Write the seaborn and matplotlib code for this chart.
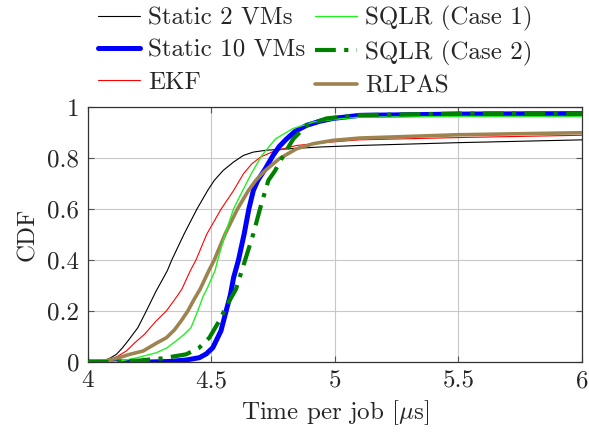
import matplotlib
matplotlib.use("Agg")
import matplotlib.pyplot as plt
import seaborn as sns
import pandas as pd

# ---- data ----
labels = ["Static 2 VMs", "Static 10 VMs", "EKF", "SQLR (Case 1)", "SQLR (Case 2)", "RLPAS"]

x_static2 = [4.0, 4.04, 4.062, 4.09, 4.116, 4.14, 4.163, 4.203, 4.237, 4.277, 4.30, 4.322, 4.34, 4.39, 4.442,
             4.485, 4.512, 4.548, 4.59, 4.63, 4.67, 4.72, 4.778, 4.94, 5.1, 5.5, 6.0]
y_static2 = [0.0, 0.0, 0.003, 0.015, 0.03, 0.055, 0.083, 0.135, 0.2, 0.279, 0.319, 0.358, 0.4, 0.502, 0.6,
             0.672, 0.712, 0.751, 0.784, 0.81, 0.823, 0.83, 0.834, 0.843, 0.849, 0.86, 0.871]

x_static10 = [4.0, 4.25, 4.33, 4.40, 4.452, 4.48, 4.506, 4.539, 4.56, 4.577, 4.59, 4.61, 4.633, 4.652,
              4.67, 4.688, 4.717, 4.75, 4.775, 4.805, 4.84, 4.886, 4.94, 4.993, 5.1, 5.5, 6.0]
y_static10 = [0.0, 0.0, 0.002, 0.008, 0.017, 0.032, 0.056, 0.122, 0.2, 0.262, 0.33, 0.4, 0.502, 0.6,
              0.672, 0.712, 0.755, 0.81, 0.845, 0.875, 0.905, 0.928, 0.944, 0.955, 0.967, 0.972, 0.974]

x_ekf = [4.0, 4.06, 4.085, 4.12, 4.156, 4.19, 4.23, 4.277, 4.318, 4.358, 4.381, 4.415, 4.438, 4.482, 4.54,
         4.59, 4.63, 4.664, 4.70, 4.75, 4.845, 4.98, 5.1, 5.5, 6.0]
y_ekf = [0.0, 0.0, 0.005, 0.022, 0.043, 0.075, 0.109, 0.161, 0.2, 0.253, 0.286, 0.358, 0.4, 0.502, 0.6,
         0.672, 0.738, 0.777, 0.804, 0.825, 0.849, 0.862, 0.871, 0.88, 0.889]

x_sqlr1 = [4.0, 4.1, 4.14, 4.2, 4.277, 4.32, 4.358, 4.39, 4.418, 4.445, 4.468, 4.482, 4.515, 4.526, 4.556,
           4.59, 4.63, 4.665, 4.705, 4.76, 4.83, 4.913, 5.007, 5.1, 5.5, 6.0]
y_sqlr1 = [0.0, 0.0, 0.005, 0.017, 0.036, 0.055, 0.083, 0.108, 0.135, 0.2, 0.26, 0.286, 0.358, 0.4, 0.502,
           0.6, 0.678, 0.744, 0.81, 0.875, 0.915, 0.941, 0.952, 0.96, 0.963, 0.963]

x_sqlr2 = [4.0, 4.1, 4.2, 4.3, 4.398, 4.45, 4.492, 4.532, 4.566, 4.6, 4.637, 4.67, 4.697, 4.715, 4.731,
           4.758, 4.792, 4.832, 4.886, 4.966, 5.1, 5.5, 6.0]
y_sqlr2 = [0.0, 0.0, 0.005, 0.014, 0.03, 0.055, 0.095, 0.161, 0.227, 0.286, 0.4, 0.502, 0.6, 0.66, 0.712,
           0.75, 0.81, 0.875, 0.928, 0.955, 0.968, 0.974, 0.975]

x_rlpas = [4.0, 4.03, 4.08, 4.13, 4.17, 4.224, 4.28, 4.318, 4.35, 4.378, 4.405, 4.43, 4.455, 4.49, 4.512,
           4.556, 4.606, 4.65, 4.68, 4.715, 4.775, 4.845, 4.913, 4.993, 5.1, 5.5, 6.0]
y_rlpas = [0.0, 0.0, 0.006, 0.018, 0.03, 0.043, 0.075, 0.095, 0.125, 0.161, 0.2, 0.245, 0.286, 0.358, 0.4,
           0.502, 0.6, 0.672, 0.712, 0.748, 0.797, 0.836, 0.856, 0.869, 0.878, 0.891, 0.899]

xs = [x_static2, x_static10, x_ekf, x_sqlr1, x_sqlr2, x_rlpas]
ys = [y_static2, y_static10, y_ekf, y_sqlr1, y_sqlr2, y_rlpas]

colors = ["#000000", "#0000ff", "#ff0000", "#22f022", "#008000", "#9c834f"]
widths = [0.8, 3.6, 0.8, 1.0, 3.0, 2.6]
styles = ["-", "-", "-", "-", (0, (5, 2, 1, 2)), "-"]
zorders = [3, 4, 3, 5, 6, 4]

xticks = [4, 4.5, 5, 5.5, 6]
xtick_labels = ["4", "4.5", "5", "5.5", "6"]
yticks = [0, 0.2, 0.4, 0.6, 0.8, 1]
ytick_labels = ["0", "0.2", "0.4", "0.6", "0.8", "1"]

# ---- plotting ----
sns.set_theme(style="whitegrid")
plt.rcParams["font.family"] = ["cmr10", "DejaVu Serif"]
plt.rcParams["mathtext.fontset"] = "cm"
plt.rcParams["axes.formatter.use_mathtext"] = True

FS = 18
fig = plt.figure(figsize=(5.89, 4.33), dpi=100)
ax = fig.add_axes([0.149, 0.164, 0.839, 0.589])

for lab, x, y, c, w, s, z in zip(labels, xs, ys, colors, widths, styles, zorders):
    df = pd.DataFrame({"x": x, "y": y})
    sns.lineplot(data=df, x="x", y="y", ax=ax, color=c, linewidth=w,
                 linestyle=s, label=lab, sort=False, zorder=z)

ax.set_xlim(4, 6)
ax.set_ylim(0, 1)
ax.set_xticks(xticks)
ax.set_xticklabels(xtick_labels)
ax.set_yticks(yticks)
ax.set_yticklabels(ytick_labels)
ax.set_xlabel(r"Time per job [$\mu$s]", fontsize=FS, labelpad=4)
ax.set_ylabel("CDF", fontsize=FS, labelpad=6)
ax.tick_params(axis="both", labelsize=FS, direction="in", length=4, pad=6,
               color="#555555", width=0.8, left=True, bottom=True, right=True, top=True)
ax.grid(True, color="#c8c8c8", linewidth=0.8)
for sp in ax.spines.values():
    sp.set_color("#333333")
    sp.set_linewidth(0.9)

ax.legend(loc="upper left", bbox_to_anchor=(0.1664, 0.986), bbox_transform=fig.transFigure,
          ncol=2, frameon=False, fontsize=FS, handlelength=1.68, handletextpad=0.32,
          columnspacing=0.4, labelspacing=0.38, borderpad=0.0, borderaxespad=0.0)

fig.savefig("out.png", dpi=100)
